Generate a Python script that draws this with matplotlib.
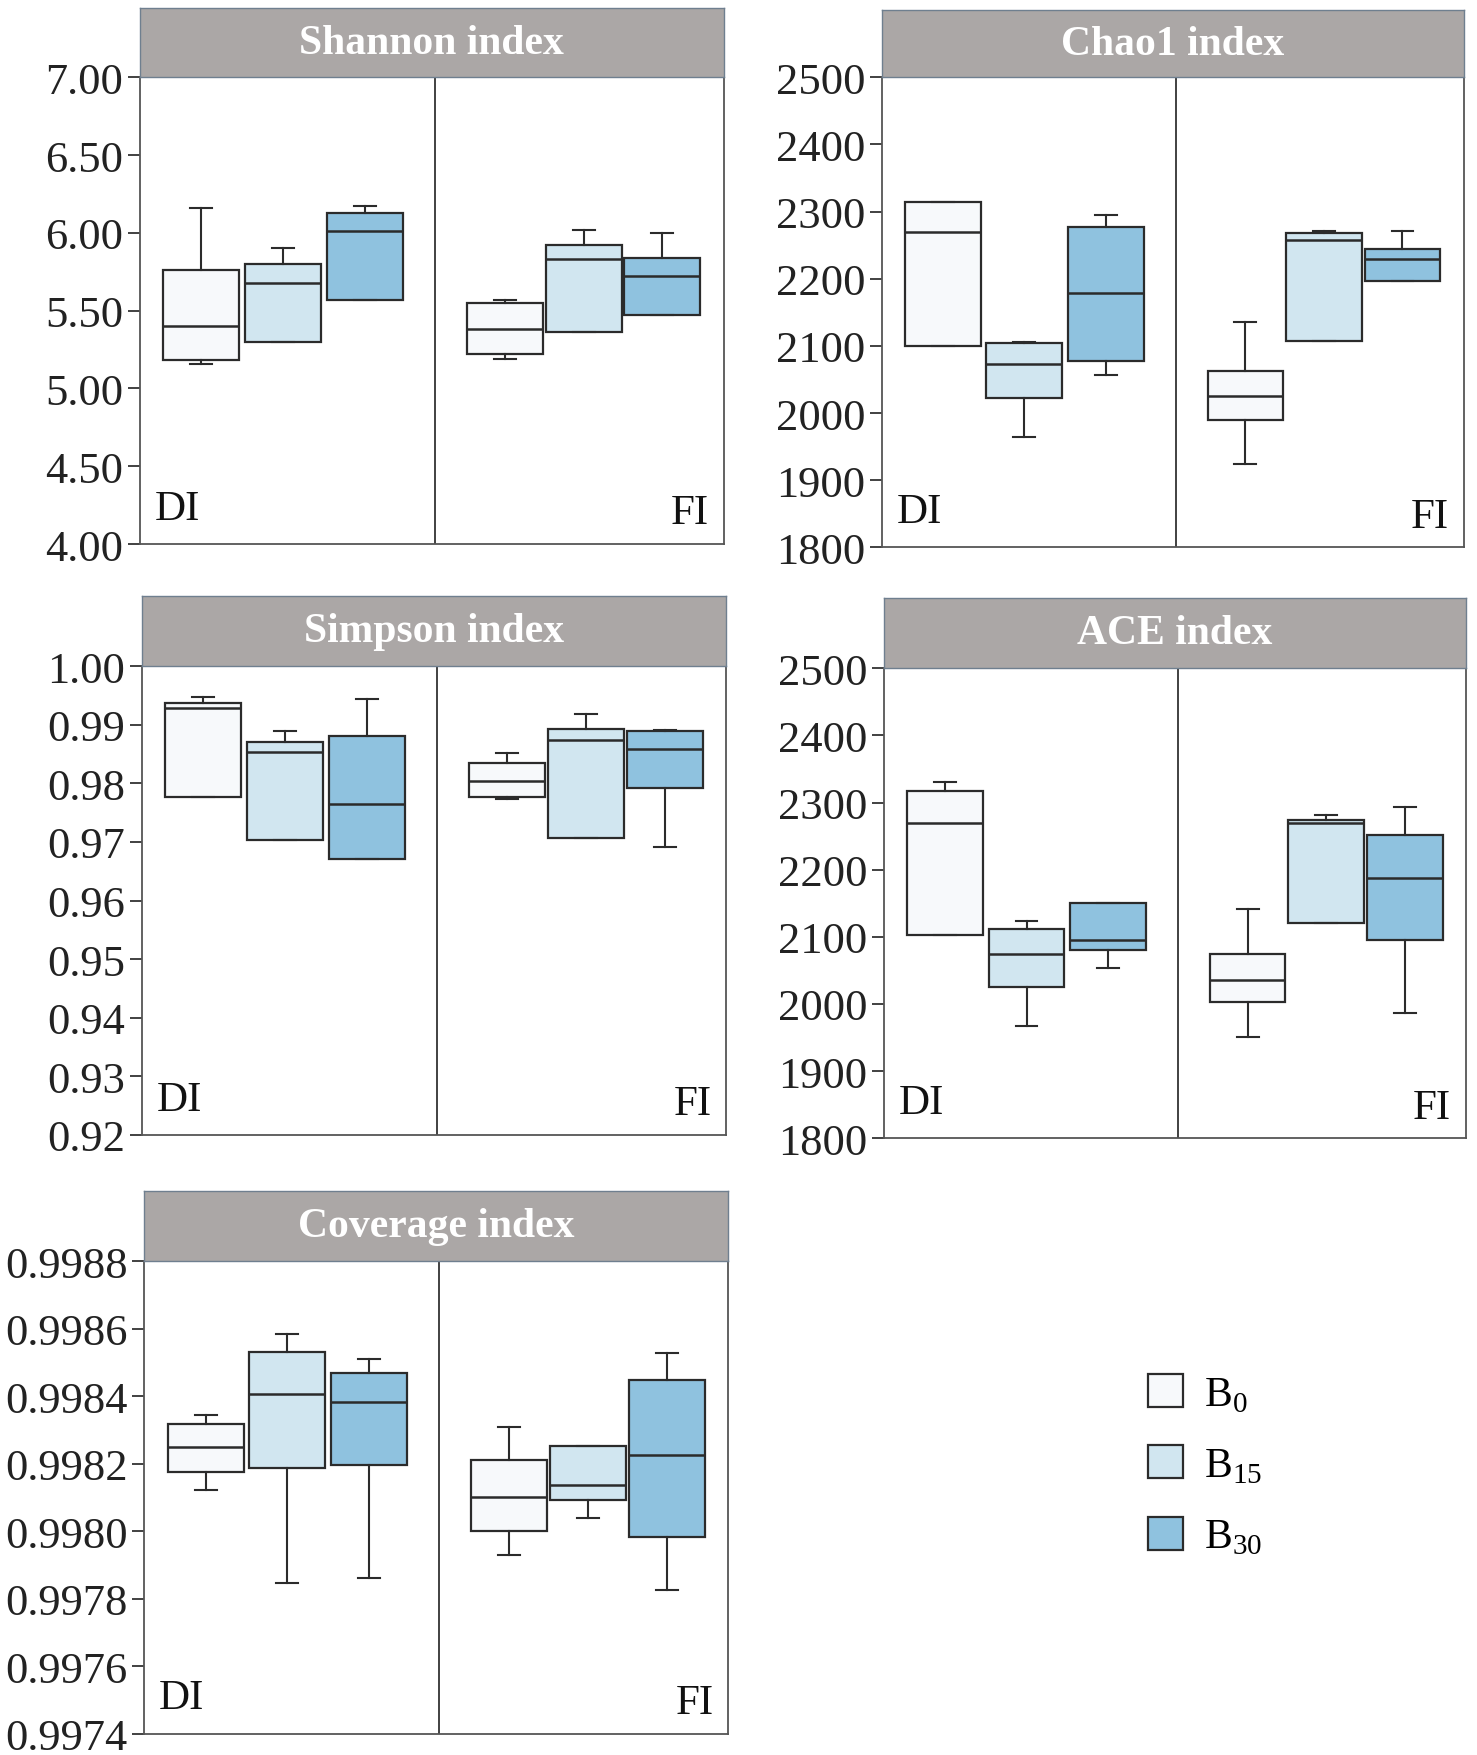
import numpy as np
import matplotlib
matplotlib.use("Agg")
import matplotlib.pyplot as plt
from matplotlib.patches import Patch

plt.rcParams['font.family'] = ['Liberation Serif', 'DejaVu Serif']
plt.rcParams['mathtext.fontset'] = 'custom'
plt.rcParams['mathtext.rm'] = 'Liberation Serif'

# five-number summaries per box: [whisker low, q1, median, q3, whisker high]
# order inside each list: B0, B15, B30
treatments = ['B$_{0}$', 'B$_{15}$', 'B$_{30}$']
sites = ['DI', 'FI']

shannon_di = [[5.16, 5.18, 5.40, 5.76, 6.16],
              [5.30, 5.30, 5.68, 5.80, 5.90],
              [5.57, 5.57, 6.01, 6.13, 6.17]]
shannon_fi = [[5.19, 5.22, 5.38, 5.55, 5.57],
              [5.36, 5.36, 5.83, 5.92, 6.02],
              [5.47, 5.47, 5.72, 5.84, 6.00]]

chao1_di = [[2100, 2100, 2269, 2314, 2314],
            [1964, 2022, 2073, 2105, 2106],
            [2057, 2078, 2179, 2277, 2295]]
chao1_fi = [[1924, 1989, 2025, 2062, 2136],
            [2107, 2107, 2258, 2268, 2271],
            [2197, 2197, 2229, 2245, 2271]]

simpson_di = [[0.9776, 0.9776, 0.9929, 0.9937, 0.9947],
              [0.9704, 0.9704, 0.9853, 0.9871, 0.9889],
              [0.9671, 0.9671, 0.9764, 0.9880, 0.9944]]
simpson_fi = [[0.9773, 0.9776, 0.9804, 0.9834, 0.9852],
              [0.9707, 0.9707, 0.9874, 0.9893, 0.9919],
              [0.9691, 0.9792, 0.9859, 0.9889, 0.9891]]

ace_di = [[2103, 2103, 2269, 2317, 2330],
          [1967, 2025, 2074, 2112, 2123],
          [2054, 2080, 2096, 2150, 2150]]
ace_fi = [[1951, 2003, 2035, 2074, 2141],
          [2120, 2120, 2269, 2274, 2282],
          [1987, 2096, 2187, 2252, 2293]]

coverage_di = [[0.998122, 0.998176, 0.998249, 0.998319, 0.998346],
               [0.997846, 0.998187, 0.998407, 0.998532, 0.998586],
               [0.997862, 0.998198, 0.998384, 0.998469, 0.998510]]
coverage_fi = [[0.997930, 0.998001, 0.998103, 0.998212, 0.998308],
               [0.998039, 0.998092, 0.998136, 0.998252, 0.998252],
               [0.997826, 0.997983, 0.998225, 0.998447, 0.998529]]

box_colors = ['#f7f9fb', '#d1e6f0', '#8fc2df']
edge = '#2b2b2b'
strip_color = '#aba7a6'

fig = plt.figure(figsize=(14.77, 17.56), dpi=100)


def draw_panel(rect, strip_h, title, di, fi, ticks, fmt):
    ax = fig.add_axes(rect)
    stats = []
    for row in di + fi:
        stats.append(dict(whislo=row[0], q1=row[1], med=row[2], q3=row[3], whishi=row[4]))
    positions = [0.21, 0.49, 0.77, 1.25, 1.52, 1.79]
    bp = ax.bxp(stats, positions=positions, widths=0.26, patch_artist=True,
                showfliers=False, capwidths=0.075,
                boxprops=dict(edgecolor=edge, linewidth=1.6),
                medianprops=dict(color=edge, linewidth=1.8),
                whiskerprops=dict(color=edge, linewidth=1.5),
                capprops=dict(color=edge, linewidth=1.5))
    for patch, c in zip(bp['boxes'], box_colors * 2):
        patch.set_facecolor(c)
    ax.axvline(1.01, color='#333333', lw=1.3)
    ax.set_xlim(0, 2)
    ax.set_ylim(ticks[0], ticks[-1])
    ax.set_yticks(ticks)
    ax.set_yticklabels([fmt % t for t in ticks])
    ax.set_xticks([])
    ax.tick_params(axis='y', direction='out', length=9, width=1.3,
                   labelsize=32, pad=3, colors='#333333', labelcolor='#222222')
    for s in ax.spines.values():
        s.set_color('#555555')
        s.set_linewidth(1.3)
    ax.text(0.025, 0.035, sites[0], transform=ax.transAxes, fontsize=31,
            ha='left', va='bottom', color='#111111')
    ax.text(0.975, 0.025, sites[1], transform=ax.transAxes, fontsize=31,
            ha='right', va='bottom', color='#111111')

    sx = fig.add_axes([rect[0], rect[1] + rect[3], rect[2], strip_h])
    sx.set_facecolor(strip_color)
    sx.set_xticks([])
    sx.set_yticks([])
    for s in sx.spines.values():
        s.set_color('#6f7f8f')
        s.set_linewidth(1.0)
    sx.text(0.5, 0.5, title, transform=sx.transAxes, ha='center', va='center',
            fontsize=30, fontweight='bold', color='white')
    return ax


draw_panel([0.0947, 0.6896, 0.3953, 0.2658], 0.0395, 'Shannon index',
           shannon_di, shannon_fi, np.linspace(4.0, 7.0, 7), '%.2f')
draw_panel([0.5970, 0.6877, 0.3939, 0.2677], 0.0382, 'Chao1 index',
           chao1_di, chao1_fi, np.linspace(1800, 2500, 8), '%d')
draw_panel([0.0962, 0.3531, 0.3955, 0.2670], 0.0402, 'Simpson index',
           simpson_di, simpson_fi, np.linspace(0.92, 1.00, 9), '%.2f')
draw_panel([0.5985, 0.3512, 0.3939, 0.2677], 0.0401, 'ACE index',
           ace_di, ace_fi, np.linspace(1800, 2500, 8), '%d')
draw_panel([0.0977, 0.0121, 0.3955, 0.2690], 0.0401, 'Coverage index',
           coverage_di, coverage_fi, np.linspace(0.9974, 0.9988, 8), '%.4f')

handles = [Patch(facecolor=c, edgecolor=edge, linewidth=1.6) for c in box_colors]
fig.legend(handles, treatments, loc='center', bbox_to_anchor=(0.816, 0.165),
           frameon=False, fontsize=30, handlelength=0.85, handleheight=0.85,
           labelspacing=0.75, handletextpad=0.5)

fig.savefig('out.png', dpi=100)
